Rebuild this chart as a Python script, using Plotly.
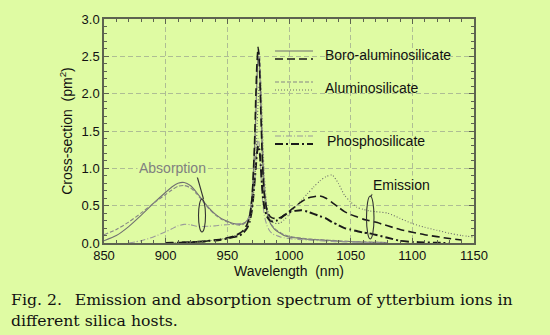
import plotly.graph_objects as go

# ---------------- data ----------------
wavelength = [850, 860, 870, 880, 890, 900, 905, 910, 915, 920, 925, 930, 935, 940, 945,
              950, 955, 960, 963, 966, 968, 970, 972, 973, 974, 975, 976, 977, 978, 979,
              980, 982, 984, 986, 988, 990, 993, 996, 1000, 1005, 1010, 1015, 1020, 1025,
              1030, 1035, 1040, 1045, 1050, 1055, 1060, 1065, 1070, 1080, 1090, 1100,
              1110, 1120, 1130, 1140, 1150]

N = None
abs_boro = [0.03, 0.10, 0.22, 0.37, 0.53, 0.68, 0.75, 0.80, 0.81, 0.77, 0.68, 0.57, 0.47, 0.39, 0.33,
            0.29, 0.26, 0.25, 0.26, 0.30, 0.38, 0.65, 1.25, 1.70, 2.20, 2.50, 2.40, 1.90, 1.35, 0.95,
            0.68, 0.42, 0.30, 0.23, 0.19, 0.16, 0.13, 0.10, 0.08, 0.07, 0.06, 0.05, 0.045, 0.04,
            0.035, 0.03, 0.025, 0.02, 0.02, 0.015, 0.012, 0.01, 0.008, 0.005, N, N,
            N, N, N, N, N]
abs_alumino = [0.11, 0.18, 0.28, 0.40, 0.53, 0.65, 0.71, 0.76, 0.77, 0.74, 0.66, 0.56, 0.46, 0.38, 0.32,
               0.28, 0.25, 0.24, 0.25, 0.29, 0.36, 0.60, 1.15, 1.60, 2.10, 2.45, 2.55, 2.20, 1.60, 1.10,
               0.78, 0.47, 0.32, 0.24, 0.20, 0.17, 0.14, 0.11, 0.09, 0.075, 0.065, 0.055, 0.05, 0.045,
               0.04, 0.035, 0.03, 0.025, 0.02, 0.018, 0.015, 0.012, 0.01, 0.006, N, N,
               N, N, N, N, N]
abs_phospho = [N, N, 0.00, 0.03, 0.08, 0.15, 0.19, 0.23, 0.25, 0.245, 0.225, 0.22, 0.225, 0.23, 0.24,
               0.245, 0.25, 0.26, 0.27, 0.30, 0.35, 0.50, 0.80, 1.05, 1.30, 1.40, 1.30, 1.00, 0.70, 0.50,
               0.37, 0.24, 0.17, 0.13, 0.11, 0.10, 0.08, 0.07, 0.06, 0.05, 0.045, 0.04, 0.035, 0.03,
               0.025, 0.02, 0.018, 0.015, 0.012, 0.01, 0.008, 0.006, 0.005, 0.003, N, N,
               N, N, N, N, N]
em_boro = [N, N, N, N, N, 0.0, 0.003, 0.005, 0.008, 0.01, 0.015, 0.02, 0.03, 0.04, 0.05,
           0.07, 0.09, 0.13, 0.17, 0.25, 0.35, 0.60, 1.30, 1.90, 2.40, 2.62, 2.40, 1.85, 1.30, 0.90,
           0.65, 0.45, 0.37, 0.34, 0.33, 0.33, 0.34, 0.37, 0.42, 0.49, 0.55, 0.60, 0.62, 0.63,
           0.60, 0.54, 0.48, 0.42, 0.38, 0.35, 0.32, 0.30, 0.28, 0.23, 0.18, 0.145,
           0.11, 0.085, 0.06, 0.04, N]
em_alumino = [N, N, N, N, N, 0.0, 0.003, 0.005, 0.008, 0.01, 0.015, 0.02, 0.03, 0.04, 0.05,
              0.07, 0.09, 0.12, 0.16, 0.22, 0.30, 0.45, 0.80, 1.10, 1.50, 1.90, 2.12, 2.15, 1.80, 1.30,
              0.90, 0.50, 0.35, 0.29, 0.27, 0.26, 0.27, 0.31, 0.38, 0.48, 0.57, 0.66, 0.75, 0.83,
              0.89, 0.91, 0.80, 0.64, 0.55, 0.48, 0.45, 0.43, 0.42, 0.40, 0.33, 0.26,
              0.21, 0.17, 0.13, 0.10, 0.08]
em_phospho = [N, N, N, N, N, 0.0, 0.003, 0.005, 0.008, 0.01, 0.015, 0.02, 0.03, 0.035, 0.045,
              0.06, 0.08, 0.10, 0.14, 0.20, 0.28, 0.45, 0.80, 1.00, 1.20, 1.30, 1.25, 1.05, 0.80, 0.60,
              0.48, 0.36, 0.31, 0.29, 0.29, 0.30, 0.33, 0.37, 0.41, 0.43, 0.44, 0.42, 0.39, 0.36,
              0.33, 0.28, 0.24, 0.20, 0.18, 0.16, 0.14, 0.13, 0.11, 0.07, 0.03, 0.015,
              0.008, 0.003, 0.0, N, N]

x_ticks = [850, 900, 950, 1000, 1050, 1100, 1150]
y_ticks = [0.0, 0.5, 1.0, 1.5, 2.0, 2.5, 3.0]
legend_names = ["Boro-aluminosilicate", "Aluminosilicate", "Phosphosilicate"]
caption = ["Fig. 2.\u2002 Emission and absorption spectrum of ytterbium ions in",
           "different silica hosts."]

# ---------------- styles ----------------
BG = "#dffba3"
sty = {
    "abs_boro": dict(color="#707070", width=1.1, dash="solid"),
    "abs_alumino": dict(color="#858585", width=1.1, dash="4px,2px"),
    "abs_phospho": dict(color="#9a9a9a", width=1.1, dash="6px,2px,1px,2px"),
    "em_boro": dict(color="#1a1a1a", width=1.6, dash="8px,4px"),
    "em_alumino": dict(color="#6a6a6a", width=1.1, dash="1px,2px"),
    "em_phospho": dict(color="#1a1a1a", width=2.0, dash="8px,3px,2px,3px"),
}
series = [("abs_boro", abs_boro), ("abs_alumino", abs_alumino), ("abs_phospho", abs_phospho),
          ("em_phospho", em_phospho), ("em_alumino", em_alumino), ("em_boro", em_boro)]

fig = go.Figure()
for key, vals in series:
    fig.add_trace(go.Scatter(x=wavelength, y=vals, mode="lines", line=dict(**sty[key], shape="spline", smoothing=0.6),
                             connectgaps=False, showlegend=False, hoverinfo="skip"))

# ---------------- layout ----------------
L, R, T, B = 104, 76, 19, 92
W, H = 550, 335
pw, ph = W - L - R, H - T - B


def px(xp):
    return (xp - L) / pw


def py(yp):
    return (H - B - yp) / ph


FRAME = "#5d6350"
axis_common = dict(showline=True, linecolor=FRAME, linewidth=1.5, mirror="ticks",
                   ticks="inside", ticklen=5, tickcolor=FRAME, tickwidth=1.2,
                   showgrid=True, gridcolor="#aebd94", griddash="5px,3px", gridwidth=1,
                   zeroline=False, tickfont=dict(family="Liberation Sans, Arial", size=13, color="#111111"))

fig.update_layout(
    width=W, height=H, margin=dict(l=L, r=R, t=T, b=B),
    paper_bgcolor=BG, plot_bgcolor=BG,
    xaxis=dict(range=[850, 1150], tickvals=x_ticks, **axis_common,
               minor=dict(ticks="inside", ticklen=3, dtick=10, tick0=850, tickcolor=FRAME, showgrid=False),
               title=dict(text="Wavelength  (nm)", font=dict(family="Liberation Sans, Arial", size=14, color="#111"),
                          standoff=2)),
    yaxis=dict(range=[0, 3], tickvals=y_ticks, tickformat=".1f", **axis_common,
               minor=dict(ticks="inside", ticklen=3, dtick=0.1, tick0=0, tickcolor=FRAME, showgrid=False),
               title=dict(text="Cross-section  (pm<sup>2</sup>)",
                          font=dict(family="Liberation Sans, Arial", size=14, color="#111"), standoff=6)),
)

shapes = []
# legend background boxes (hide grid)
for (x0, x1, y0, y1) in [(270, 463, 44, 66), (270, 432, 77, 99), (270, 432, 126, 152)]:
    shapes.append(dict(type="rect", xref="paper", yref="paper", x0=px(x0), x1=px(x1), y0=py(y1), y1=py(y0),
                       fillcolor=BG, line=dict(width=0), layer="between"))
# legend samples
samples = [(51, "abs_boro"), (59, "em_boro"), (82, "abs_alumino"), (90, "em_alumino"),
           (136, "abs_phospho"), (144, "em_phospho")]
for yp, key in samples:
    s = sty[key]
    shapes.append(dict(type="line", xref="paper", yref="paper", x0=px(275), x1=px(313), y0=py(yp), y1=py(yp),
                       line=dict(color=s["color"], width=s["width"], dash=s["dash"])))
# ellipses and pointers
shapes.append(dict(type="circle", xref="paper", yref="paper", x0=px(198.5), x1=px(205.5), y0=py(232), y1=py(199),
                   line=dict(color="#333", width=1.1)))
shapes.append(dict(type="line", xref="paper", yref="paper", x0=px(197), x1=px(203.5), y0=py(176), y1=py(199),
                   line=dict(color="#333", width=1.1)))
shapes.append(dict(type="circle", xref="paper", yref="paper", x0=px(366.5), x1=px(374), y0=py(239), y1=py(196),
                   line=dict(color="#333", width=1.1)))
shapes.append(dict(type="line", xref="paper", yref="paper", x0=px(374), x1=px(370.5), y0=py(191), y1=py(197),
                   line=dict(color="#333", width=1.1)))
fig.update_layout(shapes=shapes)

ann = []
for name, (xp, yp) in zip(legend_names, [(323, 55), (323, 88), (325, 141)]):
    ann.append(dict(text=name, xref="paper", yref="paper", x=px(xp), y=py(yp), xanchor="left", yanchor="middle",
                    showarrow=False, font=dict(family="Liberation Sans, Arial", size=14, color="#111")))
ann.append(dict(text="Absorption", xref="paper", yref="paper", x=px(172), y=py(168), xanchor="center",
                yanchor="middle", showarrow=False, bgcolor=BG,
                font=dict(family="Liberation Sans, Arial", size=14, color="#808080")))
ann.append(dict(text="Emission", xref="paper", yref="paper", x=px(401.5), y=py(185), xanchor="center",
                yanchor="middle", showarrow=False, bgcolor=BG,
                font=dict(family="Liberation Sans, Arial", size=14, color="#111")))
for i, line in enumerate(caption):
    ann.append(dict(text=line, xref="paper", yref="paper", x=px(9), y=py(299 + 21 * i), xanchor="left",
                    yanchor="middle", showarrow=False,
                    font=dict(family="DejaVu Serif, serif", size=15.7, color="#111")))
fig.update_layout(annotations=ann)

fig.write_html("out.html")
